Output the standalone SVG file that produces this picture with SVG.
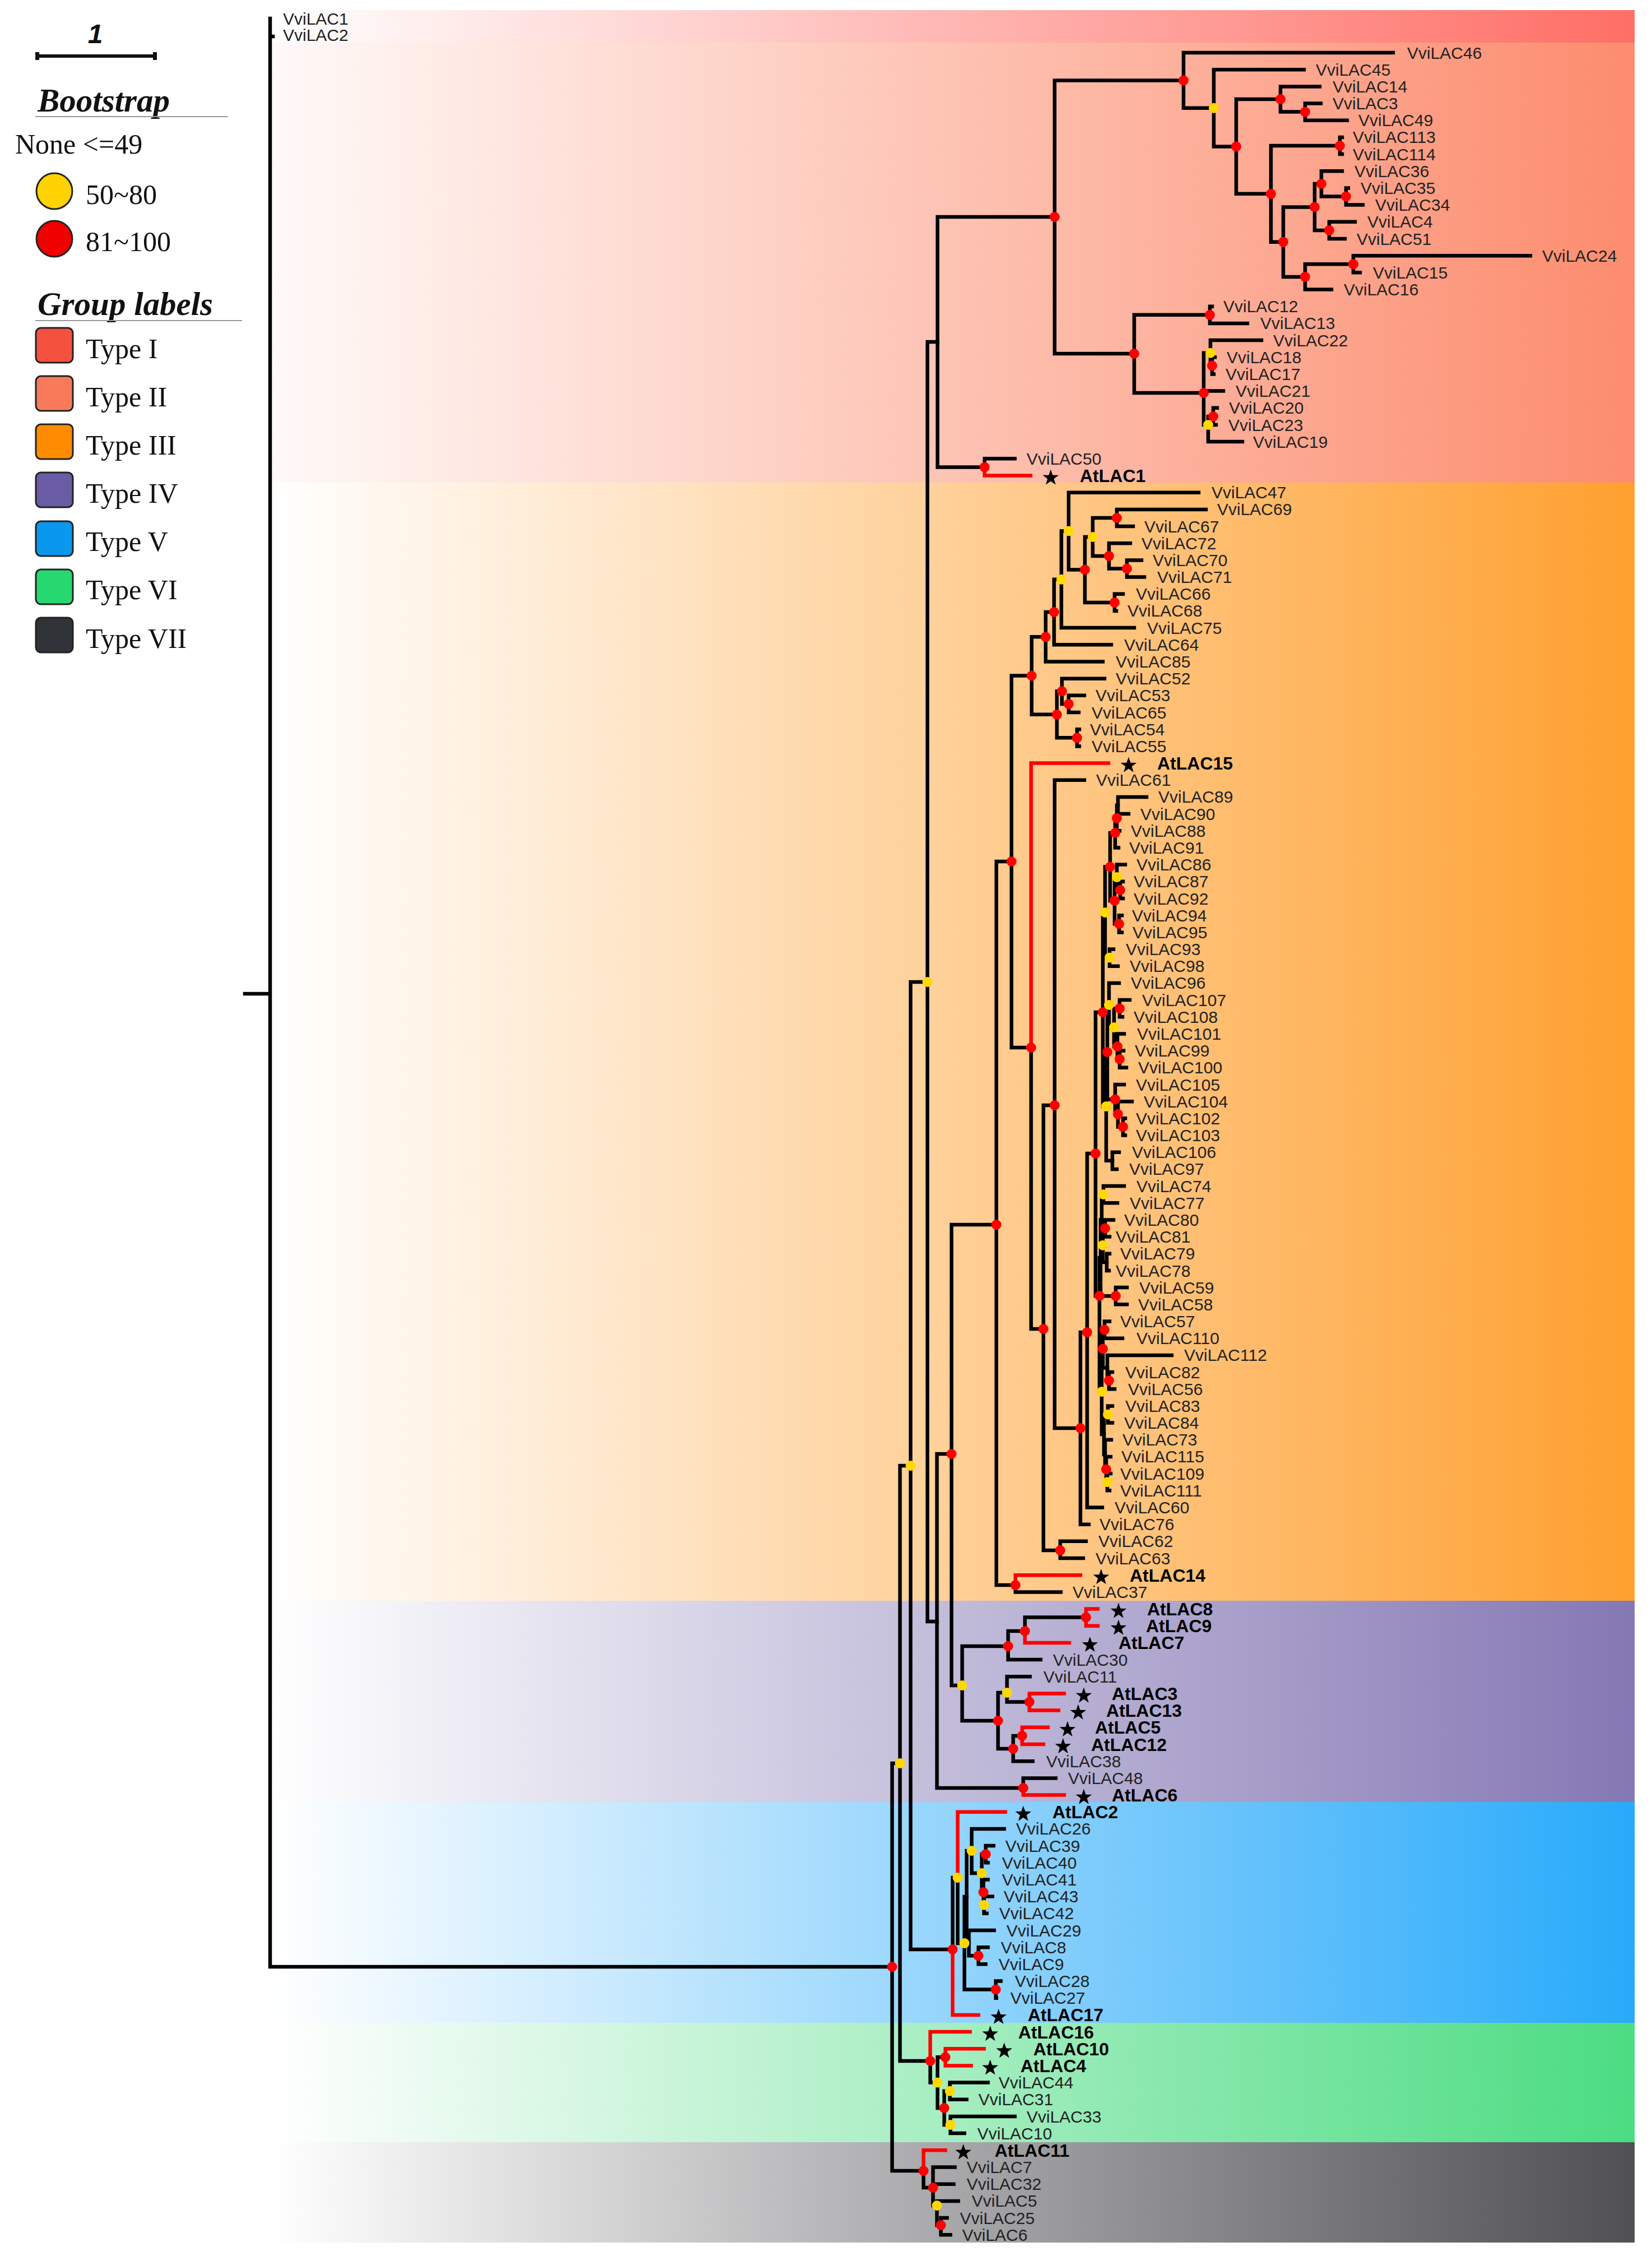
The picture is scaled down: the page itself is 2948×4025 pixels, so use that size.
<svg xmlns="http://www.w3.org/2000/svg" xmlns:xlink="http://www.w3.org/1999/xlink" width="2948" height="4025" viewBox="0 0 2948 4025">
<style>
.b{fill:none;stroke:#000;stroke-width:6.5;stroke-linecap:square;stroke-linejoin:miter}
.r{fill:none;stroke:#f00;stroke-width:6.5;stroke-linecap:square;stroke-linejoin:miter}
.dr{fill:#f00}
.dy{fill:#ffd800}
.t{font-family:"Liberation Sans",Arial,sans-serif;font-size:30px;fill:#222}
.a{font-family:"Liberation Sans",Arial,sans-serif;font-size:32px;font-weight:bold;fill:#000}
.lg{font-family:"Liberation Serif","Times New Roman",serif;font-size:50px;fill:#111}
.lh{font-family:"Liberation Serif","Times New Roman",serif;font-size:59px;font-weight:bold;font-style:italic;fill:#111}
.sq{stroke:#222;stroke-width:3}
</style>
<defs>
<linearGradient id="g1" gradientUnits="userSpaceOnUse" x1="482" y1="0" x2="2917" y2="0"><stop offset="0" stop-color="#FF6E66" stop-opacity="0"/><stop offset="1" stop-color="#FF6E66"/></linearGradient>
<linearGradient id="g2" gradientUnits="userSpaceOnUse" x1="482" y1="0" x2="2917" y2="0"><stop offset="0" stop-color="#FC8C6E" stop-opacity="0.05"/><stop offset="1" stop-color="#FC8C6E"/></linearGradient>
<linearGradient id="g3" gradientUnits="userSpaceOnUse" x1="482" y1="0" x2="2917" y2="0"><stop offset="0" stop-color="#FFA030" stop-opacity="0"/><stop offset="1" stop-color="#FFA030"/></linearGradient>
<linearGradient id="g4" gradientUnits="userSpaceOnUse" x1="482" y1="0" x2="2917" y2="0"><stop offset="0" stop-color="#8478B4" stop-opacity="0"/><stop offset="1" stop-color="#8478B4"/></linearGradient>
<linearGradient id="g5" gradientUnits="userSpaceOnUse" x1="482" y1="0" x2="2917" y2="0"><stop offset="0" stop-color="#28AAFA" stop-opacity="0"/><stop offset="1" stop-color="#28AAFA"/></linearGradient>
<linearGradient id="g6" gradientUnits="userSpaceOnUse" x1="482" y1="0" x2="2917" y2="0"><stop offset="0" stop-color="#4BDC82" stop-opacity="0"/><stop offset="1" stop-color="#4BDC82"/></linearGradient>
<linearGradient id="g7" gradientUnits="userSpaceOnUse" x1="482" y1="0" x2="2917" y2="0"><stop offset="0" stop-color="#505055" stop-opacity="0"/><stop offset="1" stop-color="#505055"/></linearGradient>
<path id="st" d="M0,-15 L3.53,-4.85 L14.27,-4.64 L5.71,1.85 L8.82,12.14 L0,6 L-8.82,12.14 L-5.71,1.85 L-14.27,-4.64 L-3.53,-4.85Z" fill="#000"/>
</defs>

<g id="bands">
<rect x="482" y="18" width="2435" height="58" fill="url(#g1)"/>
<rect x="482" y="76" width="2435" height="785" fill="url(#g2)"/>
<rect x="482" y="861" width="2435" height="1995" fill="url(#g3)"/>
<rect x="482" y="2856" width="2435" height="359" fill="url(#g4)"/>
<rect x="482" y="3215" width="2435" height="394" fill="url(#g5)"/>
<rect x="482" y="3609" width="2435" height="213" fill="url(#g6)"/>
<rect x="482" y="3822" width="2435" height="179" fill="url(#g7)"/>
</g>

<g id="legend">
<text x="170" y="77" text-anchor="middle" font-family="'Liberation Sans',Arial,sans-serif" font-size="48" font-weight="bold" font-style="italic" fill="#111">1</text>
<path d="M66,100 H277" stroke="#111" stroke-width="6" fill="none"/>
<rect x="63" y="93" width="7" height="14" fill="#111"/>
<rect x="273" y="93" width="7" height="14" fill="#111"/>
<text class="lh" x="67" y="199">Bootstrap</text>
<path d="M63,208 H407" stroke="#999" stroke-width="2"/>
<text class="lg" x="27" y="274">None &lt;=49</text>
<circle cx="97" cy="341" r="32" fill="#FFD200" stroke="#222" stroke-width="3"/>
<text class="lg" x="153" y="364">50~80</text>
<circle cx="97" cy="426" r="32" fill="#F00000" stroke="#222" stroke-width="3"/>
<text class="lg" x="153" y="448">81~100</text>
<text class="lh" x="67" y="562">Group labels</text>
<path d="M63,572 H432" stroke="#999" stroke-width="2"/>
<rect class="sq" x="64" y="585" width="66" height="62" rx="9" fill="#F5513F"/>
<text class="lg" x="153" y="639">Type I</text>
<rect class="sq" x="64" y="671" width="66" height="62" rx="9" fill="#F87A5A"/>
<text class="lg" x="153" y="725">Type II</text>
<rect class="sq" x="64" y="757" width="66" height="62" rx="9" fill="#FF8C00"/>
<text class="lg" x="153" y="811">Type III</text>
<rect class="sq" x="64" y="843" width="66" height="62" rx="9" fill="#6A5BA5"/>
<text class="lg" x="153" y="897">Type IV</text>
<rect class="sq" x="64" y="930" width="66" height="62" rx="9" fill="#0A97EE"/>
<text class="lg" x="153" y="983">Type V</text>
<rect class="sq" x="64" y="1016" width="66" height="62" rx="9" fill="#27D870"/>
<text class="lg" x="153" y="1069">Type VI</text>
<rect class="sq" x="64" y="1102" width="66" height="62" rx="9" fill="#303338"/>
<text class="lg" x="153" y="1156">Type VII</text>
</g>

<g id="connectors">
<path class="b" d="M437,1773 H482 M482,33 V3509 H1592 M482,65 H487"/>
<path class="b" d="M1592,3146 V3873 M1592,3146 H1606 M1592,3873 H1648"/>
<path class="b" d="M1606,2615 V3677 M1606,2615 H1625 M1606,3677 H1660"/>
<path class="b" d="M1625,1752 V3478 M1625,1752 H1655 M1625,3478 H1700"/>
<path class="b" d="M1655,610 V2893 M1655,610 H1673 M1655,2893 H1672"/>
<path class="b" d="M1673,387 V833.4 M1673,387 H1882 M1673,833.4 H1757"/>
<path class="b" d="M1757,818.3 V833.4 M1757,818.3 H1811"/>
<path class="r" d="M1757,833.4 V848.5 H1839"/>
<path class="b" d="M1882,143.4 V631 M1882,143.4 H2112 M1882,631 H2024"/>
<path class="b" d="M2112,94 V192.8 M2112,94 H2486 M2112,192.8 H2166"/>
<path class="b" d="M2166,124.2 V261.4 M2166,124.2 H2327 M2166,261.4 H2206"/>
<path class="b" d="M2206,177 V345.8 M2206,177 H2285 M2206,345.8 H2268"/>
<path class="b" d="M2285,154.4 V199.6 M2285,154.4 H2355 M2285,199.6 H2329"/>
<path class="b" d="M2329,184.5 V214.7 M2329,184.5 H2357 M2329,214.7 H2404"/>
<path class="b" d="M2268,260 V431.7 M2268,260 H2391 M2268,431.7 H2290"/>
<path class="b" d="M2391,244.9 V275.1 M2391,244.9 H2395 M2391,275.1 H2395"/>
<path class="b" d="M2290,369.4 V493.9 M2290,369.4 H2346 M2290,493.9 H2329"/>
<path class="b" d="M2346,327.9 V410.9 M2346,327.9 H2358 M2346,410.9 H2372"/>
<path class="b" d="M2358,305.3 V350.5 M2358,305.3 H2395 M2358,350.5 H2402"/>
<path class="b" d="M2402,335.4 V365.6 M2402,335.4 H2406 M2402,365.6 H2432"/>
<path class="b" d="M2372,395.8 V426 M2372,395.8 H2418 M2372,426 H2400"/>
<path class="b" d="M2329,471.2 V516.5 M2329,471.2 H2415 M2329,516.5 H2376"/>
<path class="b" d="M2415,456.2 V486.3 M2415,456.2 H2731 M2415,486.3 H2427"/>
<path class="b" d="M2024,561.8 V701 M2024,561.8 H2159 M2024,701 H2148"/>
<path class="b" d="M2159,546.7 V576.9 M2159,546.7 H2163 M2159,576.9 H2226"/>
<path class="b" d="M2148,629.7 V758 M2148,629.7 H2160 M2148,697.6 H2183 M2148,758 H2156"/>
<path class="b" d="M2160,607.1 V652.3 M2160,607.1 H2251 M2160,652.3 H2163"/>
<path class="b" d="M2163,637.2 V667.4 M2163,637.2 H2168 M2163,667.4 H2166"/>
<path class="b" d="M2156,743 V788.1 M2156,743 H2165 M2156,788.1 H2217"/>
<path class="b" d="M2165,727.8 V758 M2165,727.8 H2172 M2165,758 H2170"/>
<path class="b" d="M1672,2594 V3190 M1672,2594 H1698 M1672,3190 H1826"/>
<path class="b" d="M1698,2185 V3007 M1698,2185 H1778 M1698,3007 H1717"/>
<path class="b" d="M1778,1537 V2828 M1778,1537 H1805 M1778,2828 H1812"/>
<path class="b" d="M1812,2828 V2840.4 H1893"/>
<path class="r" d="M1812,2828 V2810.2 H1928"/>
<path class="b" d="M1805,1205.5 V1869 M1805,1205.5 H1841 M1805,1869 H1840"/>
<path class="r" d="M1840,1869 V1361.6 H1978"/>
<path class="b" d="M1840,1869 V2371 H1862"/>
<path class="b" d="M1862,1972 V2766 M1862,1972 H1882 M1862,2766 H1892"/>
<path class="b" d="M1892,2749.8 V2780 M1892,2749.8 H1938 M1892,2780 H1933"/>
<path class="b" d="M1882,1391.7 V2548 M1882,1391.7 H1935 M1882,2548 H1928"/>
<path class="b" d="M1928,2377 V2719.7 M1928,2377 H1940 M1928,2719.7 H1943"/>
<path class="b" d="M1940,2058 V2689.5 M1940,2058 H1955 M1940,2689.5 H1967"/>
<path class="b" d="M1955,1806 V2312 M1955,1806 H1968 M1955,2312 H1962"/>
<path class="b" d="M1968,1628 V1974 M1968,1628 H1972 M1968,1974 H1974"/>
<path class="b" d="M1972,1546.5 V1708.6 M1972,1546.5 H1981 M1972,1708.6 H1980"/>
<path class="b" d="M1981,1486 V1607 M1981,1486 H1990 M1981,1607 H1989"/>
<path class="b" d="M1990,1459.7 V1512.5 M1990,1459.7 H1993 M1990,1512.5 H1996"/>
<path class="b" d="M1993,1437 V1482.3 M1993,1437 H1995 M1993,1482.3 H1998"/>
<path class="b" d="M1995,1421.9 V1452.1 M1995,1421.9 H2046 M1995,1452.1 H2014"/>
<path class="b" d="M1989,1565 V1648.3 M1989,1565 H1993 M1989,1648.3 H1997"/>
<path class="b" d="M1993,1542.6 V1587.9 M1993,1542.6 H2008 M1993,1587.9 H1999"/>
<path class="b" d="M1999,1572.8 V1603 M1999,1572.8 H2004 M1999,1603 H2004"/>
<path class="b" d="M1997,1633.2 V1663.4 M1997,1633.2 H2002 M1997,1663.4 H2002"/>
<path class="b" d="M1980,1693.5 V1723.7 M1980,1693.5 H1987 M1980,1723.7 H1995"/>
<path class="b" d="M1974,1877 V2070.8 M1974,1877 H1976 M1974,2070.8 H1985"/>
<path class="b" d="M1976,1793 V1961.4 M1976,1793 H1979 M1976,1961.4 H1990"/>
<path class="b" d="M1979,1753.9 V1833 M1979,1753.9 H1997 M1979,1833 H1988"/>
<path class="b" d="M1988,1799.2 V1867 M1988,1799.2 H1998 M1988,1867 H1994"/>
<path class="b" d="M1998,1784.1 V1814.3 M1998,1784.1 H2016 M1998,1814.3 H2003"/>
<path class="b" d="M1994,1844.4 V1889.7 M1994,1844.4 H2006 M1994,1889.7 H1998"/>
<path class="b" d="M1998,1874.6 V1904.8 M1998,1874.6 H2005 M1998,1904.8 H2010"/>
<path class="b" d="M1990,1935 V1987.8 M1990,1935 H2006 M1990,1987.8 H1995"/>
<path class="b" d="M1995,1965.2 V2010.4 M1995,1965.2 H2020 M1995,2010.4 H2004"/>
<path class="b" d="M2004,1995.3 V2025.5 M2004,1995.3 H2008 M2004,2025.5 H2008"/>
<path class="b" d="M1985,2055.7 V2085.9 M1985,2055.7 H1997 M1985,2085.9 H1993"/>
<path class="b" d="M1962,2244.3 V2483 M1962,2244.3 H1964 M1962,2483 H1966"/>
<path class="b" d="M1964,2176.4 V2312.2 M1964,2176.4 H1966 M1964,2312.2 H1991"/>
<path class="b" d="M1966,2131 V2221.7 M1966,2131 H1969 M1966,2221.7 H1968"/>
<path class="b" d="M1969,2116.1 V2146.2 M1969,2116.1 H2006 M1969,2146.2 H1994"/>
<path class="b" d="M1968,2191.5 V2251.9 M1968,2191.5 H1972 M1968,2251.9 H1975"/>
<path class="b" d="M1972,2176.4 V2206.6 M1972,2176.4 H1987 M1972,2206.6 H1980"/>
<path class="b" d="M1975,2236.8 V2267 M1975,2236.8 H1980 M1975,2267 H1979"/>
<path class="b" d="M1991,2297.1 V2327.3 M1991,2297.1 H2011 M1991,2327.3 H2011"/>
<path class="b" d="M1966,2406.5 V2559 M1966,2406.5 H1968 M1966,2559 H1970"/>
<path class="b" d="M1968,2372.6 V2440.5 M1968,2372.6 H1971 M1968,2440.5 H1976"/>
<path class="b" d="M1971,2357.5 V2387.7 M1971,2357.5 H1980 M1971,2387.7 H2003"/>
<path class="b" d="M1976,2417.9 V2463.1 M1976,2417.9 H2091 M1976,2463.1 H1979"/>
<path class="b" d="M1979,2448 V2478.2 M1979,2448 H1985 M1979,2478.2 H1989"/>
<path class="b" d="M1970,2523.5 V2595 M1970,2523.5 H1977 M1970,2595 H1972"/>
<path class="b" d="M1977,2508.4 V2538.6 M1977,2508.4 H1985 M1977,2538.6 H1985"/>
<path class="b" d="M1972,2568.8 V2621.5 M1972,2568.8 H1983 M1972,2621.5 H1974"/>
<path class="b" d="M1974,2598.9 V2644.2 M1974,2598.9 H1982 M1974,2644.2 H1976"/>
<path class="b" d="M1976,2629.1 V2659.3 M1976,2629.1 H1982 M1976,2659.3 H1980"/>
<path class="b" d="M1841,1136.3 V1274.8 M1841,1136.3 H1866 M1841,1274.8 H1886"/>
<path class="b" d="M1866,1092 V1180.5 M1866,1092 H1881 M1866,1180.5 H1968"/>
<path class="b" d="M1881,1033.8 V1150.3 M1881,1033.8 H1894 M1881,1150.3 H1983"/>
<path class="b" d="M1894,947.5 V1120.1 M1894,947.5 H1907 M1894,1120.1 H2024"/>
<path class="b" d="M1907,878.7 V1016.4 M1907,878.7 H2139 M1907,1016.4 H1936"/>
<path class="b" d="M1936,957.9 V1074.9 M1936,957.9 H1950 M1936,1074.9 H1989"/>
<path class="b" d="M1950,924 V991.9 M1950,924 H1993 M1950,991.9 H1979"/>
<path class="b" d="M1993,908.9 V939 M1993,908.9 H2152 M1993,939 H2022"/>
<path class="b" d="M1979,969.2 V1014.5 M1979,969.2 H2017 M1979,1014.5 H2011"/>
<path class="b" d="M2011,999.4 V1029.6 M2011,999.4 H2037 M2011,1029.6 H2042"/>
<path class="b" d="M1989,1059.8 V1089.9 M1989,1059.8 H2004 M1989,1089.9 H1992"/>
<path class="b" d="M1886,1233.3 V1316.3 M1886,1233.3 H1895 M1886,1316.3 H1922"/>
<path class="b" d="M1895,1210.7 V1255.9 M1895,1210.7 H1971 M1895,1255.9 H1907"/>
<path class="b" d="M1907,1240.8 V1271 M1907,1240.8 H1935 M1907,1271 H1925"/>
<path class="b" d="M1922,1301.2 V1331.4 M1922,1301.2 H1926 M1922,1331.4 H1926"/>
<path class="b" d="M1717,2937 V3070 M1717,2937 H1799 M1717,3070 H1781"/>
<path class="b" d="M1799,2910 V2961.1 M1799,2910 H1829 M1799,2961.1 H1857"/>
<path class="b" d="M1829,2885.6 V2910 M1829,2885.6 H1938"/>
<path class="r" d="M1829,2910 V2930.9 H1908"/>
<path class="r" d="M1938,2870.6 V2900.7 M1938,2870.6 H1959 M1938,2900.7 H1959"/>
<path class="b" d="M1781,3020 V3120 M1781,3020 H1797 M1781,3120 H1808"/>
<path class="b" d="M1797,2991.3 V3036.5 M1797,2991.3 H1838 M1797,3036.5 H1837"/>
<path class="r" d="M1837,3021.5 V3051.6 M1837,3021.5 H1899 M1837,3051.6 H1889"/>
<path class="b" d="M1808,3096.9 V3142.2 M1808,3096.9 H1824 M1808,3142.2 H1843"/>
<path class="r" d="M1824,3081.8 V3112 M1824,3081.8 H1870 M1824,3112 H1862"/>
<path class="b" d="M1826,3172.4 V3190 M1826,3172.4 H1884"/>
<path class="r" d="M1826,3190 V3202.5 H1899"/>
<path class="b" d="M1700,3350 V3478 M1700,3350 H1709"/>
<path class="r" d="M1700,3478 V3594.9 H1746"/>
<path class="r" d="M1709,3350 V3232.7 H1794"/>
<path class="b" d="M1709,3350 V3467 H1721"/>
<path class="b" d="M1721,3384 V3549.6 M1721,3384 H1725 M1721,3549.6 H1777"/>
<path class="b" d="M1725,3302 V3466.7 M1725,3302 H1734 M1725,3466.7 H1729"/>
<path class="b" d="M1734,3262.9 V3342 M1734,3262.9 H1792 M1734,3342 H1752"/>
<path class="b" d="M1752,3308.2 V3376 M1752,3308.2 H1759 M1752,3376 H1755"/>
<path class="b" d="M1759,3293.1 V3323.3 M1759,3293.1 H1773 M1759,3323.3 H1763"/>
<path class="b" d="M1755,3353.4 V3398.7 M1755,3353.4 H1763 M1755,3398.7 H1756"/>
<path class="b" d="M1756,3383.6 V3413.8 M1756,3383.6 H1771 M1756,3413.8 H1761"/>
<path class="b" d="M1729,3444 V3489.3 M1729,3444 H1774 M1729,3489.3 H1746"/>
<path class="b" d="M1746,3474.2 V3504.3 M1746,3474.2 H1763 M1746,3504.3 H1759"/>
<path class="b" d="M1777,3534.5 V3564.7 M1777,3534.5 H1786 M1777,3564.7 H1778"/>
<path class="r" d="M1660,3677 V3625.1 H1731"/>
<path class="b" d="M1660,3677 V3715.6 H1673"/>
<path class="b" d="M1673,3670.3 V3761 M1673,3670.3 H1687 M1673,3761 H1685"/>
<path class="r" d="M1687,3655.2 V3685.4 M1687,3655.2 H1756 M1687,3685.4 H1733"/>
<path class="b" d="M1685,3730.7 V3791 M1685,3730.7 H1695 M1685,3791 H1696"/>
<path class="b" d="M1695,3715.6 V3745.8 M1695,3715.6 H1763 M1695,3745.8 H1725"/>
<path class="b" d="M1696,3776 V3806.1 M1696,3776 H1811 M1696,3806.1 H1721"/>
<path class="r" d="M1648,3873 V3836.3 H1687"/>
<path class="b" d="M1648,3873 V3903 H1665"/>
<path class="b" d="M1665,3866.5 V3935 M1665,3866.5 H1704 M1665,3896.7 H1702 M1665,3935 H1672"/>
<path class="b" d="M1672,3926.9 V3970 M1672,3926.9 H1710 M1672,3970 H1679"/>
<path class="b" d="M1679,3957 V3987.2 M1679,3957 H1690 M1679,3987.2 H1696"/>
</g>

<g id="bootstrap-dots">
<g class="dr">
<circle cx="1592" cy="3509" r="9"/>
<circle cx="2112" cy="143.4" r="9"/><circle cx="2206" cy="261.4" r="9"/><circle cx="2285" cy="177" r="9"/><circle cx="2329" cy="199.6" r="9"/>
<circle cx="2268" cy="345.8" r="9"/><circle cx="2391" cy="260" r="9"/><circle cx="2290" cy="431.7" r="9"/><circle cx="2346" cy="369.4" r="9"/>
<circle cx="2358" cy="327.9" r="9"/><circle cx="2402" cy="350.5" r="9"/><circle cx="2372" cy="410.9" r="9"/><circle cx="2329" cy="493.9" r="9"/>
<circle cx="2415" cy="471.2" r="9"/><circle cx="1882" cy="387" r="9"/><circle cx="2024" cy="631" r="9"/><circle cx="2159" cy="561.8" r="9"/>
<circle cx="2148" cy="701" r="9"/><circle cx="2163" cy="652.3" r="9"/><circle cx="2165" cy="743" r="9"/><circle cx="1757" cy="833.4" r="9"/>
<circle cx="1841" cy="1205.5" r="9"/><circle cx="1866" cy="1136.3" r="9"/><circle cx="1881" cy="1092" r="9"/><circle cx="1936" cy="1016.4" r="9"/>
<circle cx="1993" cy="924" r="9"/><circle cx="1979" cy="991.9" r="9"/><circle cx="2011" cy="1014.5" r="9"/><circle cx="1989" cy="1074.9" r="9"/>
<circle cx="1886" cy="1274.8" r="9"/><circle cx="1895" cy="1233.3" r="9"/><circle cx="1907" cy="1255.9" r="9"/><circle cx="1922" cy="1316.3" r="9"/>
<circle cx="1805" cy="1537" r="9"/><circle cx="1840" cy="1869" r="9"/><circle cx="1862" cy="2371" r="9"/><circle cx="1882" cy="1972" r="9"/>
<circle cx="1892" cy="2766" r="9"/><circle cx="1928" cy="2548" r="9"/><circle cx="1940" cy="2377" r="9"/><circle cx="1955" cy="2058" r="9"/>
<circle cx="1968" cy="1806" r="9"/><circle cx="1981" cy="1546.5" r="9"/><circle cx="1990" cy="1486" r="9"/><circle cx="1993" cy="1459.7" r="9"/>
<circle cx="1989" cy="1607" r="9"/><circle cx="1999" cy="1588" r="9"/><circle cx="1997" cy="1648.3" r="9"/><circle cx="1976" cy="1877" r="9"/>
<circle cx="1998" cy="1799.2" r="9"/><circle cx="1994" cy="1867" r="9"/><circle cx="1998" cy="1889.7" r="9"/><circle cx="1990" cy="1961.4" r="9"/>
<circle cx="1995" cy="1987.8" r="9"/><circle cx="2004" cy="2010.4" r="9"/><circle cx="1962" cy="2312" r="9"/><circle cx="1972" cy="2191.5" r="9"/>
<circle cx="1991" cy="2312.2" r="9"/><circle cx="1968" cy="2406.5" r="9"/><circle cx="1971" cy="2372.6" r="9"/><circle cx="1979" cy="2463.1" r="9"/>
<circle cx="1974" cy="2621.5" r="9"/><circle cx="1778" cy="2185" r="9"/><circle cx="1812" cy="2828" r="9"/><circle cx="1698" cy="2594" r="9"/>
<circle cx="1799" cy="2937" r="9"/><circle cx="1829" cy="2910" r="9"/><circle cx="1938" cy="2885.6" r="9"/><circle cx="1781" cy="3070" r="9"/>
<circle cx="1837" cy="3036.5" r="9"/><circle cx="1808" cy="3120" r="9"/><circle cx="1824" cy="3096.9" r="9"/><circle cx="1826" cy="3190" r="9"/>
<circle cx="1700" cy="3478" r="9"/><circle cx="1759" cy="3308.2" r="9"/><circle cx="1755" cy="3376" r="9"/><circle cx="1746" cy="3489.3" r="9"/>
<circle cx="1777" cy="3549.6" r="9"/><circle cx="1660" cy="3677" r="9"/><circle cx="1687" cy="3670.3" r="9"/><circle cx="1685" cy="3761" r="9"/>
<circle cx="1648" cy="3873" r="9"/><circle cx="1665" cy="3903" r="9"/><circle cx="1679" cy="3970" r="9"/>
</g>
<g class="dy">
<circle cx="2166" cy="192.8" r="9"/><circle cx="2160" cy="629.7" r="9"/><circle cx="2156" cy="758" r="9"/>
<circle cx="1894" cy="1033.8" r="9"/><circle cx="1907" cy="947.5" r="9"/><circle cx="1950" cy="957.9" r="9"/><circle cx="1972" cy="1628" r="9"/>
<circle cx="1993" cy="1565" r="9"/><circle cx="1980" cy="1708.6" r="9"/><circle cx="1974" cy="1974" r="9"/><circle cx="1979" cy="1793" r="9"/>
<circle cx="1988" cy="1833" r="9"/><circle cx="1969" cy="2131" r="9"/><circle cx="1968" cy="2221.7" r="9"/><circle cx="1966" cy="2483" r="9"/>
<circle cx="1977" cy="2523.5" r="9"/><circle cx="1976" cy="2644.2" r="9"/><circle cx="1655" cy="1752" r="9"/><circle cx="1625" cy="2615" r="9"/>
<circle cx="1606" cy="3146" r="9"/><circle cx="1717" cy="3007" r="9"/><circle cx="1797" cy="3020" r="9"/>
<circle cx="1709" cy="3350" r="9"/><circle cx="1721" cy="3467" r="9"/><circle cx="1734" cy="3302" r="9"/><circle cx="1752" cy="3342" r="9"/><circle cx="1756" cy="3398.7" r="9"/>
<circle cx="1673" cy="3715.6" r="9"/><circle cx="1695" cy="3730.7" r="9"/><circle cx="1696" cy="3791" r="9"/><circle cx="1672" cy="3935" r="9"/>
</g>
</g>

<g id="leaves">
<g id="n-VviLAC1"><text class="t" x="505" y="44" font-size="29">VviLAC1</text></g>
<g id="n-VviLAC2"><text class="t" x="505" y="73" font-size="29">VviLAC2</text></g>
<g id="n-VviLAC46"><text class="t" x="2511" y="104.5">VviLAC46</text></g>
<g id="n-VviLAC45"><text class="t" x="2348" y="134.7">VviLAC45</text></g>
<g id="n-VviLAC14"><text class="t" x="2378" y="164.9">VviLAC14</text></g>
<g id="n-VviLAC3"><text class="t" x="2378" y="195">VviLAC3</text></g>
<g id="n-VviLAC49"><text class="t" x="2424" y="225.2">VviLAC49</text></g>
<g id="n-VviLAC113"><text class="t" x="2414" y="255.4">VviLAC113</text></g>
<g id="n-VviLAC114"><text class="t" x="2414" y="285.6">VviLAC114</text></g>
<g id="n-VviLAC36"><text class="t" x="2417" y="315.8">VviLAC36</text></g>
<g id="n-VviLAC35"><text class="t" x="2428" y="345.9">VviLAC35</text></g>
<g id="n-VviLAC34"><text class="t" x="2454" y="376.1">VviLAC34</text></g>
<g id="n-VviLAC4"><text class="t" x="2440" y="406.3">VviLAC4</text></g>
<g id="n-VviLAC51"><text class="t" x="2421" y="436.5">VviLAC51</text></g>
<g id="n-VviLAC24"><text class="t" x="2752" y="466.7">VviLAC24</text></g>
<g id="n-VviLAC15"><text class="t" x="2450" y="496.8">VviLAC15</text></g>
<g id="n-VviLAC16"><text class="t" x="2398" y="527">VviLAC16</text></g>
<g id="n-VviLAC12"><text class="t" x="2183" y="557.2">VviLAC12</text></g>
<g id="n-VviLAC13"><text class="t" x="2249" y="587.4">VviLAC13</text></g>
<g id="n-VviLAC22"><text class="t" x="2272" y="617.6">VviLAC22</text></g>
<g id="n-VviLAC18"><text class="t" x="2189" y="647.7">VviLAC18</text></g>
<g id="n-VviLAC17"><text class="t" x="2187" y="677.9">VviLAC17</text></g>
<g id="n-VviLAC21"><text class="t" x="2205" y="708.1">VviLAC21</text></g>
<g id="n-VviLAC20"><text class="t" x="2193" y="738.3">VviLAC20</text></g>
<g id="n-VviLAC23"><text class="t" x="2192" y="768.5">VviLAC23</text></g>
<g id="n-VviLAC19"><text class="t" x="2236" y="798.6">VviLAC19</text></g>
<g id="n-VviLAC50"><text class="t" x="1832" y="828.8">VviLAC50</text></g>
<g id="n-AtLAC1"><use href="#st" x="1875" y="852.5"/><text class="a" x="1927" y="860">AtLAC1</text></g>
<g id="n-VviLAC47"><text class="t" x="2162" y="889.2">VviLAC47</text></g>
<g id="n-VviLAC69"><text class="t" x="2172" y="919.4">VviLAC69</text></g>
<g id="n-VviLAC67"><text class="t" x="2042" y="949.5">VviLAC67</text></g>
<g id="n-VviLAC72"><text class="t" x="2037" y="979.7">VviLAC72</text></g>
<g id="n-VviLAC70"><text class="t" x="2057" y="1009.9">VviLAC70</text></g>
<g id="n-VviLAC71"><text class="t" x="2065" y="1040.1">VviLAC71</text></g>
<g id="n-VviLAC66"><text class="t" x="2027" y="1070.3">VviLAC66</text></g>
<g id="n-VviLAC68"><text class="t" x="2012" y="1100.4">VviLAC68</text></g>
<g id="n-VviLAC75"><text class="t" x="2047" y="1130.6">VviLAC75</text></g>
<g id="n-VviLAC64"><text class="t" x="2006" y="1160.8">VviLAC64</text></g>
<g id="n-VviLAC85"><text class="t" x="1991" y="1191">VviLAC85</text></g>
<g id="n-VviLAC52"><text class="t" x="1991" y="1221.2">VviLAC52</text></g>
<g id="n-VviLAC53"><text class="t" x="1955" y="1251.3">VviLAC53</text></g>
<g id="n-VviLAC65"><text class="t" x="1948" y="1281.5">VviLAC65</text></g>
<g id="n-VviLAC54"><text class="t" x="1945" y="1311.7">VviLAC54</text></g>
<g id="n-VviLAC55"><text class="t" x="1948" y="1341.9">VviLAC55</text></g>
<g id="n-AtLAC15"><use href="#st" x="2014" y="1365.6"/><text class="a" x="2065" y="1373.1">AtLAC15</text></g>
<g id="n-VviLAC61"><text class="t" x="1956" y="1402.2">VviLAC61</text></g>
<g id="n-VviLAC89"><text class="t" x="2067" y="1432.4">VviLAC89</text></g>
<g id="n-VviLAC90"><text class="t" x="2035" y="1462.6">VviLAC90</text></g>
<g id="n-VviLAC88"><text class="t" x="2018" y="1492.8">VviLAC88</text></g>
<g id="n-VviLAC91"><text class="t" x="2015" y="1523">VviLAC91</text></g>
<g id="n-VviLAC86"><text class="t" x="2028" y="1553.1">VviLAC86</text></g>
<g id="n-VviLAC87"><text class="t" x="2023" y="1583.3">VviLAC87</text></g>
<g id="n-VviLAC92"><text class="t" x="2023" y="1613.5">VviLAC92</text></g>
<g id="n-VviLAC94"><text class="t" x="2020" y="1643.7">VviLAC94</text></g>
<g id="n-VviLAC95"><text class="t" x="2021" y="1673.9">VviLAC95</text></g>
<g id="n-VviLAC93"><text class="t" x="2009" y="1704">VviLAC93</text></g>
<g id="n-VviLAC98"><text class="t" x="2016" y="1734.2">VviLAC98</text></g>
<g id="n-VviLAC96"><text class="t" x="2018" y="1764.4">VviLAC96</text></g>
<g id="n-VviLAC107"><text class="t" x="2038" y="1794.6">VviLAC107</text></g>
<g id="n-VviLAC108"><text class="t" x="2023" y="1824.8">VviLAC108</text></g>
<g id="n-VviLAC101"><text class="t" x="2029" y="1854.9">VviLAC101</text></g>
<g id="n-VviLAC99"><text class="t" x="2025" y="1885.1">VviLAC99</text></g>
<g id="n-VviLAC100"><text class="t" x="2031" y="1915.3">VviLAC100</text></g>
<g id="n-VviLAC105"><text class="t" x="2027" y="1945.5">VviLAC105</text></g>
<g id="n-VviLAC104"><text class="t" x="2041" y="1975.7">VviLAC104</text></g>
<g id="n-VviLAC102"><text class="t" x="2027" y="2005.8">VviLAC102</text></g>
<g id="n-VviLAC103"><text class="t" x="2027" y="2036">VviLAC103</text></g>
<g id="n-VviLAC106"><text class="t" x="2020" y="2066.2">VviLAC106</text></g>
<g id="n-VviLAC97"><text class="t" x="2015" y="2096.4">VviLAC97</text></g>
<g id="n-VviLAC74"><text class="t" x="2028" y="2126.6">VviLAC74</text></g>
<g id="n-VviLAC77"><text class="t" x="2016" y="2156.7">VviLAC77</text></g>
<g id="n-VviLAC80"><text class="t" x="2006" y="2186.9">VviLAC80</text></g>
<g id="n-VviLAC81"><text class="t" x="1991" y="2217.1">VviLAC81</text></g>
<g id="n-VviLAC79"><text class="t" x="1999" y="2247.3">VviLAC79</text></g>
<g id="n-VviLAC78"><text class="t" x="1991" y="2277.5">VviLAC78</text></g>
<g id="n-VviLAC59"><text class="t" x="2033" y="2307.6">VviLAC59</text></g>
<g id="n-VviLAC58"><text class="t" x="2031" y="2337.8">VviLAC58</text></g>
<g id="n-VviLAC57"><text class="t" x="1999" y="2368">VviLAC57</text></g>
<g id="n-VviLAC110"><text class="t" x="2028" y="2398.2">VviLAC110</text></g>
<g id="n-VviLAC112"><text class="t" x="2113" y="2428.4">VviLAC112</text></g>
<g id="n-VviLAC82"><text class="t" x="2008" y="2458.5">VviLAC82</text></g>
<g id="n-VviLAC56"><text class="t" x="2013" y="2488.7">VviLAC56</text></g>
<g id="n-VviLAC83"><text class="t" x="2008" y="2518.9">VviLAC83</text></g>
<g id="n-VviLAC84"><text class="t" x="2006" y="2549.1">VviLAC84</text></g>
<g id="n-VviLAC73"><text class="t" x="2003" y="2579.3">VviLAC73</text></g>
<g id="n-VviLAC115"><text class="t" x="2001" y="2609.4">VviLAC115</text></g>
<g id="n-VviLAC109"><text class="t" x="1999" y="2639.6">VviLAC109</text></g>
<g id="n-VviLAC111"><text class="t" x="1999" y="2669.8">VviLAC111</text></g>
<g id="n-VviLAC60"><text class="t" x="1989" y="2700">VviLAC60</text></g>
<g id="n-VviLAC76"><text class="t" x="1962" y="2730.2">VviLAC76</text></g>
<g id="n-VviLAC62"><text class="t" x="1960" y="2760.3">VviLAC62</text></g>
<g id="n-VviLAC63"><text class="t" x="1955" y="2790.5">VviLAC63</text></g>
<g id="n-AtLAC14"><use href="#st" x="1965" y="2814.2"/><text class="a" x="2016" y="2821.7">AtLAC14</text></g>
<g id="n-VviLAC37"><text class="t" x="1914" y="2850.9">VviLAC37</text></g>
<g id="n-AtLAC8"><use href="#st" x="1996" y="2874.6"/><text class="a" x="2047" y="2882.1">AtLAC8</text></g>
<g id="n-AtLAC9"><use href="#st" x="1996" y="2904.7"/><text class="a" x="2045" y="2912.2">AtLAC9</text></g>
<g id="n-AtLAC7"><use href="#st" x="1945" y="2934.9"/><text class="a" x="1996" y="2942.4">AtLAC7</text></g>
<g id="n-VviLAC30"><text class="t" x="1879" y="2971.6">VviLAC30</text></g>
<g id="n-VviLAC11"><text class="t" x="1862" y="3001.8">VviLAC11</text></g>
<g id="n-AtLAC3"><use href="#st" x="1934" y="3025.5"/><text class="a" x="1984" y="3033">AtLAC3</text></g>
<g id="n-AtLAC13"><use href="#st" x="1924" y="3055.6"/><text class="a" x="1974" y="3063.1">AtLAC13</text></g>
<g id="n-AtLAC5"><use href="#st" x="1905" y="3085.8"/><text class="a" x="1954" y="3093.3">AtLAC5</text></g>
<g id="n-AtLAC12"><use href="#st" x="1897" y="3116"/><text class="a" x="1947" y="3123.5">AtLAC12</text></g>
<g id="n-VviLAC38"><text class="t" x="1867" y="3152.7">VviLAC38</text></g>
<g id="n-VviLAC48"><text class="t" x="1906" y="3182.9">VviLAC48</text></g>
<g id="n-AtLAC6"><use href="#st" x="1934" y="3206.5"/><text class="a" x="1984" y="3214">AtLAC6</text></g>
<g id="n-AtLAC2"><use href="#st" x="1826" y="3236.7"/><text class="a" x="1878" y="3244.2">AtLAC2</text></g>
<g id="n-VviLAC26"><text class="t" x="1813" y="3273.4">VviLAC26</text></g>
<g id="n-VviLAC39"><text class="t" x="1794" y="3303.6">VviLAC39</text></g>
<g id="n-VviLAC40"><text class="t" x="1788" y="3333.8">VviLAC40</text></g>
<g id="n-VviLAC41"><text class="t" x="1788" y="3363.9">VviLAC41</text></g>
<g id="n-VviLAC43"><text class="t" x="1791" y="3394.1">VviLAC43</text></g>
<g id="n-VviLAC42"><text class="t" x="1783" y="3424.3">VviLAC42</text></g>
<g id="n-VviLAC29"><text class="t" x="1796" y="3454.5">VviLAC29</text></g>
<g id="n-VviLAC8"><text class="t" x="1786" y="3484.7">VviLAC8</text></g>
<g id="n-VviLAC9"><text class="t" x="1782" y="3514.8">VviLAC9</text></g>
<g id="n-VviLAC28"><text class="t" x="1811" y="3545">VviLAC28</text></g>
<g id="n-VviLAC27"><text class="t" x="1803" y="3575.2">VviLAC27</text></g>
<g id="n-AtLAC17"><use href="#st" x="1782" y="3598.9"/><text class="a" x="1834" y="3606.4">AtLAC17</text></g>
<g id="n-AtLAC16"><use href="#st" x="1767" y="3629.1"/><text class="a" x="1817" y="3636.6">AtLAC16</text></g>
<g id="n-AtLAC10"><use href="#st" x="1792" y="3659.2"/><text class="a" x="1844" y="3666.7">AtLAC10</text></g>
<g id="n-AtLAC4"><use href="#st" x="1767" y="3689.4"/><text class="a" x="1821" y="3696.9">AtLAC4</text></g>
<g id="n-VviLAC44"><text class="t" x="1782" y="3726.1">VviLAC44</text></g>
<g id="n-VviLAC31"><text class="t" x="1746" y="3756.3">VviLAC31</text></g>
<g id="n-VviLAC33"><text class="t" x="1832" y="3786.5">VviLAC33</text></g>
<g id="n-VviLAC10"><text class="t" x="1744" y="3816.6">VviLAC10</text></g>
<g id="n-AtLAC11"><use href="#st" x="1719" y="3840.3"/><text class="a" x="1775" y="3847.8">AtLAC11</text></g>
<g id="n-VviLAC7"><text class="t" x="1725" y="3877">VviLAC7</text></g>
<g id="n-VviLAC32"><text class="t" x="1725" y="3907.2">VviLAC32</text></g>
<g id="n-VviLAC5"><text class="t" x="1734" y="3937.4">VviLAC5</text></g>
<g id="n-VviLAC25"><text class="t" x="1713" y="3967.5">VviLAC25</text></g>
<g id="n-VviLAC6"><text class="t" x="1717" y="3997.7">VviLAC6</text></g>
</g>
</svg>
